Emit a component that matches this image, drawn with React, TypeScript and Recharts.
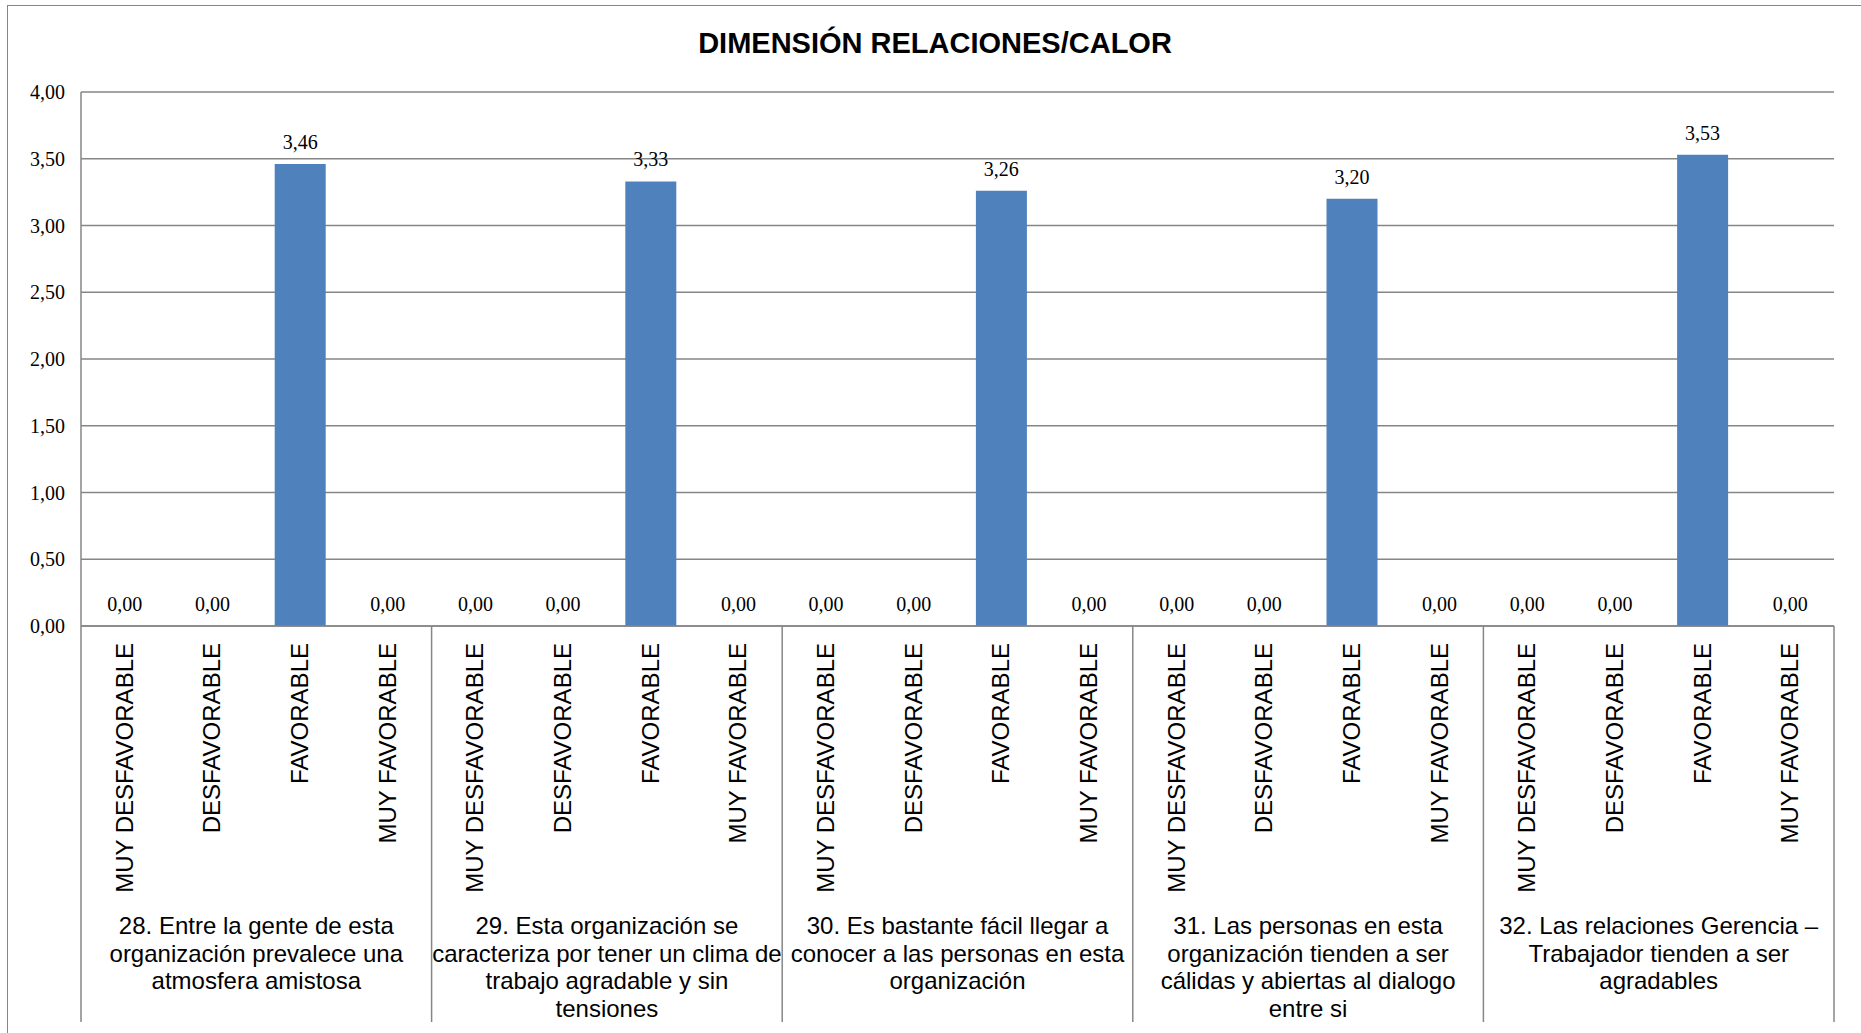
import { ComposedChart, Bar, Line, XAxis, YAxis, CartesianGrid, LabelList } from 'recharts';

const levels = ['MUY DESFAVORABLE', 'DESFAVORABLE', 'FAVORABLE', 'MUY FAVORABLE'];

const questions = [
  ['28. Entre la gente de esta', 'organización prevalece una', 'atmosfera amistosa'],
  ['29. Esta organización se', 'caracteriza por tener un clima de', 'trabajo agradable y sin', 'tensiones'],
  ['30. Es bastante fácil llegar a', 'conocer a las personas en esta', 'organización'],
  ['31. Las personas en esta', 'organización tienden a ser', 'cálidas y abiertas al dialogo', 'entre si'],
  ['32. Las relaciones Gerencia –', 'Trabajador tienden a ser', 'agradables'],
];

// one row per question: muy desfav, desfav, favorable, muy favorable
const q28 = [0, 0, 3.46, 0];
const q29 = [0, 0, 3.33, 0];
const q30 = [0, 0, 3.26, 0];
const q31 = [0, 0, 3.2, 0];
const q32 = [0, 0, 3.53, 0];

const yTicks = [0, 0.5, 1, 1.5, 2, 2.5, 3, 3.5, 4];

const data = [q28, q29, q30, q31, q32].flatMap((vals, g) =>
  vals.map((v, i) => ({ id: `${g}-${i}`, level: levels[i], value: v }))
);

const W = 1861;
const H = 1033;
const LEFT = 81;
const RIGHT = 27;
const BAND = (W - LEFT - RIGHT) / data.length;
const GRAY = '#868686';
const SANS = 'Liberation Sans, Arial, sans-serif';
const SERIF = 'Liberation Serif, Times New Roman, serif';
const fmt = (v: number) => v.toFixed(2).replace('.', ',');

const CategoryTick = (props: any) => {
  const { x, y, payload } = props;
  const idx = payload?.index ?? props.index ?? 0;
  const item = data[idx];
  const inGroup = idx % 4;
  const group = Math.floor(idx / 4);
  return (
    <g>
      <text
        transform={`translate(${x + 8},${y + 17}) rotate(-90)`}
        textAnchor="end"
        fontFamily={SANS}
        fontSize={24}
        fill="#000"
      >
        {item?.level}
      </text>
      {inGroup === 0 && (
        <>
          <line x1={x - BAND / 2} y1={y} x2={x - BAND / 2} y2={y + 396} stroke={GRAY} strokeWidth={1.5} />
          <text
            x={x + BAND * 1.5}
            y={y + 308}
            textAnchor="middle"
            fontFamily={SANS}
            fontSize={24}
            fill="#000"
          >
            {questions[group].map((line, k) => (
              <tspan key={k} x={x + BAND * 1.5} dy={k === 0 ? 0 : 27.5}>
                {line}
              </tspan>
            ))}
          </text>
        </>
      )}
      {idx === data.length - 1 && (
        <line x1={x + BAND / 2} y1={y} x2={x + BAND / 2} y2={y + 396} stroke={GRAY} strokeWidth={1.5} />
      )}
    </g>
  );
};

export default function App() {
  return (
    <div style={{ position: 'absolute', left: 0, top: 0, width: W, height: H, overflow: 'hidden', background: '#fff' }}>
      <div
        style={{
          position: 'absolute',
          left: 7,
          top: 5,
          width: W,
          height: H,
          border: `1.5px solid ${GRAY}`,
          boxSizing: 'border-box',
        }}
      />
      <div
        style={{
          position: 'absolute',
          left: 0,
          top: 26,
          width: 1870,
          textAlign: 'center',
          fontFamily: SANS,
          fontWeight: 'bold',
          fontSize: 29,
          lineHeight: '34px',
        }}
      >
        DIMENSIÓN RELACIONES/CALOR
      </div>
      <div style={{ position: 'absolute', left: 0, top: 0 }}>
        <ComposedChart
          width={W}
          height={H}
          data={data}
          margin={{ top: 92, right: RIGHT, left: 0, bottom: 7 }}
          barCategoryGap="21%"
        >
          <CartesianGrid vertical={false} stroke={GRAY} strokeWidth={1.5} />
          <YAxis
            width={LEFT}
            domain={[0, 4]}
            ticks={yTicks}
            tickFormatter={fmt}
            tickLine={false}
            tickSize={0}
            tickMargin={16}
            axisLine={{ stroke: GRAY, strokeWidth: 1.5 }}
            tick={{ fontFamily: SERIF, fontSize: 20, fill: '#000' }}
          />
          <XAxis
            dataKey="id"
            height={400}
            interval={0}
            tickLine={false}
            tickSize={0}
            tickMargin={0}
            axisLine={{ stroke: GRAY, strokeWidth: 1.5 }}
            tick={(p: any) => <CategoryTick {...p} />}
          />
          <Bar dataKey="value" fill="#4F81BD" isAnimationActive={false} />
          {/* invisible series just to carry the value labels, zeros included */}
          <Line
            dataKey="value"
            stroke="none"
            dot={false}
            activeDot={false}
            legendType="none"
            isAnimationActive={false}
          >
            <LabelList
              dataKey="value"
              position="top"
              offset={15}
              formatter={(v: any) => fmt(Number(v))}
              style={{ fontFamily: SERIF, fontSize: 20, fill: '#000' }}
            />
          </Line>
        </ComposedChart>
      </div>
    </div>
  );
}
